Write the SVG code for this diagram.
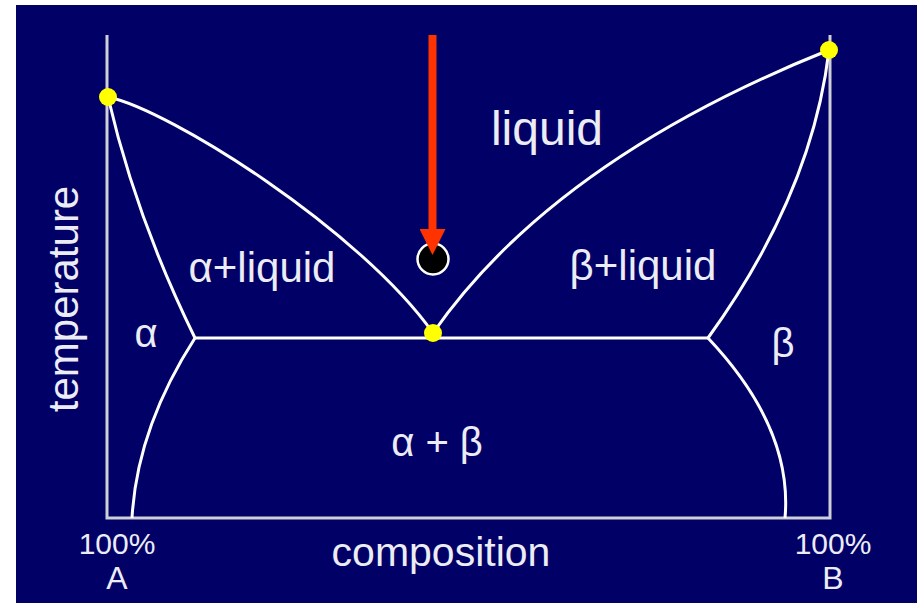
<svg xmlns="http://www.w3.org/2000/svg" width="917" height="603" viewBox="0 0 917 603">
  <style>
    .axis{stroke:#cfcfd8;stroke-width:3;fill:none}
    .curve{stroke:#ffffff;stroke-width:3;fill:none}
    .lbl{font-family:"Liberation Sans",Arial,sans-serif;fill:#ececf4}
    .dot{fill:#ffff00}
  </style>
  <defs>
    <marker id="arrowhead" markerUnits="userSpaceOnUse" markerWidth="26" markerHeight="26" refX="2" refY="13" orient="auto" viewBox="0 0 26 26">
      <path d="M0,0 L26,13 L0,26 Z" fill="#ff3300"/>
    </marker>
  </defs>
  <rect x="0" y="0" width="917" height="603" fill="#ffffff"/>
  <rect x="16" y="5" width="901" height="598" fill="#000066"/>

  <g id="axes">
    <path class="axis" d="M107,35 V518 H830 V35"/>
  </g>

  <g id="phase-lines">
    <path class="curve" d="M108,97 Q136,218 195,338"/>
    <path class="curve" d="M195,338 Q137,428 132,518"/>
    <path class="curve" d="M108,97 C170,110 360,230 433,333"/>
    <path class="curve" d="M433,333 Q554,160 829,50"/>
    <path class="curve" d="M829,50 Q812,194 708,338"/>
    <path class="curve" d="M708,338 Q793,428 785,518"/>
    <path class="curve" d="M195,338 H708"/>
  </g>

  <g id="points">
    <circle class="dot" cx="108" cy="97" r="9"/>
    <circle class="dot" cx="829" cy="50" r="9"/>
    <circle class="dot" cx="433" cy="333" r="9"/>
    <circle id="state-point" cx="433" cy="259" r="15.5" fill="#000000" stroke="#ffffff" stroke-width="2.5"/>
  </g>

  <g id="connectors">
    <line x1="432.5" y1="35" x2="432.5" y2="231" stroke="#ff3300" stroke-width="8" marker-end="url(#arrowhead)"/>
  </g>

  <g id="labels">
    <text class="lbl" x="547" y="145" font-size="48" text-anchor="middle">liquid</text>
    <text class="lbl" x="262" y="282" font-size="42" text-anchor="middle">α+liquid</text>
    <text class="lbl" x="643" y="280" font-size="42" text-anchor="middle">β+liquid</text>
    <text class="lbl" x="146" y="347" font-size="40" text-anchor="middle">α</text>
    <text class="lbl" x="783" y="357" font-size="40" text-anchor="middle">β</text>
    <text class="lbl" x="437" y="456" font-size="40" text-anchor="middle">α + β</text>
    <text class="lbl" x="0" y="0" font-size="42" text-anchor="middle" transform="translate(78,299) rotate(-90)">temperature</text>
    <text class="lbl" x="441" y="566" font-size="41" text-anchor="middle">composition</text>
    <text class="lbl" x="117" y="554" font-size="30" text-anchor="middle">100%</text>
    <text class="lbl" x="117" y="589" font-size="32" text-anchor="middle">A</text>
    <text class="lbl" x="833" y="554" font-size="30" text-anchor="middle">100%</text>
    <text class="lbl" x="833" y="589" font-size="32" text-anchor="middle">B</text>
  </g>
</svg>
